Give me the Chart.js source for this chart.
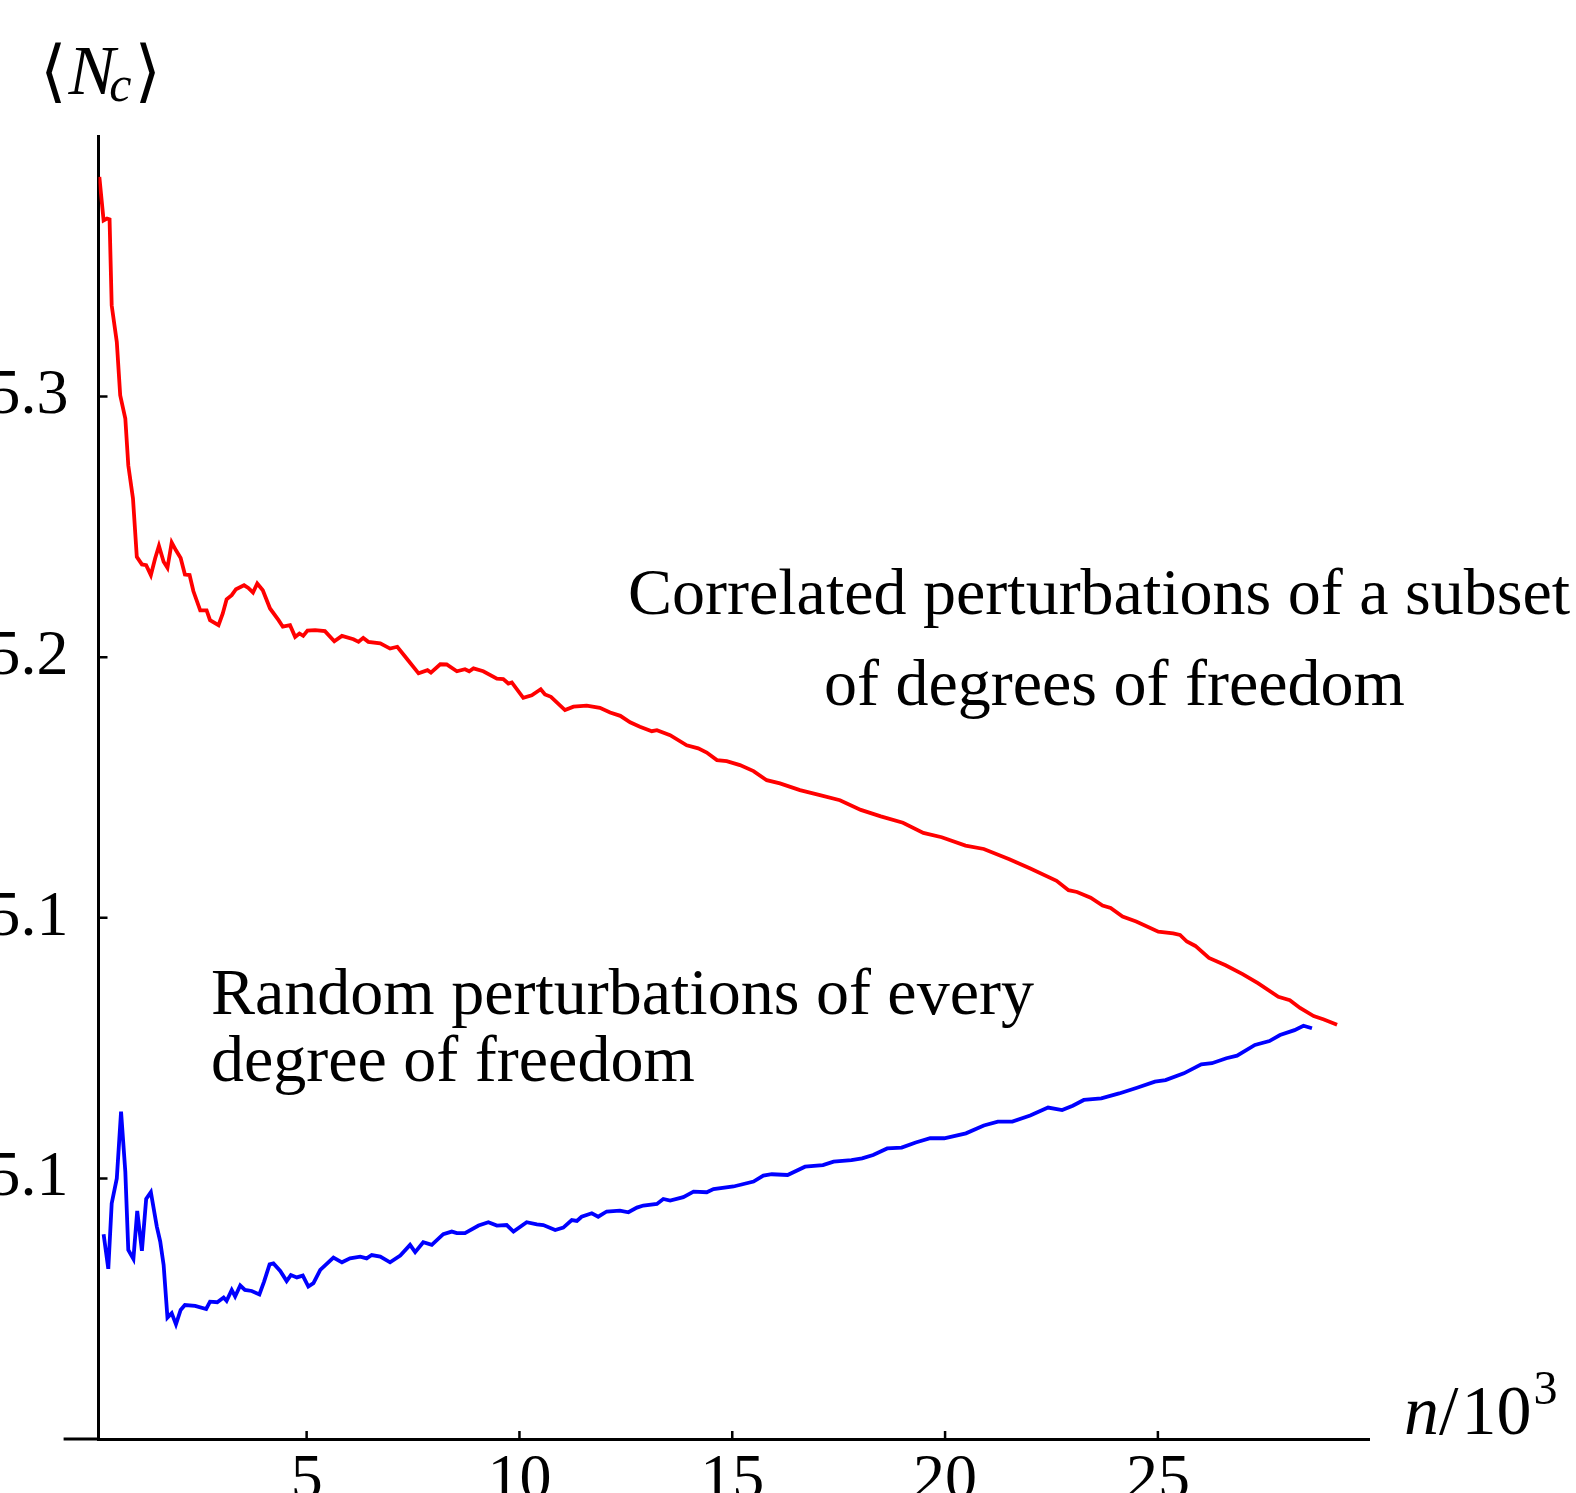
<!DOCTYPE html>
<html>
<head>
<meta charset="utf-8">
<script src="https://cdn.jsdelivr.net/npm/chart.js@4.4.1/dist/chart.umd.min.js"></script>
<style>
  html, body { margin: 0; padding: 0; background: #ffffff; overflow: hidden; }
  canvas { display: block; }
</style>
</head>
<body>
<canvas id="c" width="1576" height="1493"></canvas>
<script>
// ---- data ----
const redX = [0.13,0.23,0.31,0.37,0.42,0.54,0.62,0.74,0.81,0.92,1.01,1.13,1.23,1.34,1.44,1.53,1.64,1.73,1.83,1.93,2.04,2.14,2.25,2.34,2.50,2.65,2.73,2.93,3.03,3.12,3.24,3.34,3.53,3.63,3.74,3.84,3.97,4.14,4.34,4.44,4.61,4.73,4.83,4.92,5.02,5.20,5.43,5.65,5.83,6.10,6.22,6.33,6.45,6.73,6.96,7.13,7.35,7.63,7.84,7.92,8.14,8.29,8.53,8.72,8.82,8.92,9.15,9.47,9.62,9.74,9.82,10.09,10.29,10.50,10.60,10.74,11.07,11.27,11.58,11.89,12.13,12.37,12.60,12.83,13.11,13.23,13.54,13.93,14.20,14.40,14.64,14.87,15.18,15.50,15.81,16.12,16.59,17.06,17.53,18.02,18.49,19.01,19.49,19.92,20.48,20.91,21.51,21.99,22.62,22.90,23.10,23.42,23.70,23.89,24.17,24.49,25.01,25.36,25.52,25.68,25.88,26.20,26.59,26.99,27.35,27.83,28.10,28.34,28.66,28.90,29.21];
const redY = [5.3843,5.3676,5.3683,5.3680,5.3350,5.3210,5.3005,5.2916,5.2736,5.2609,5.2385,5.2356,5.2353,5.2315,5.2379,5.2427,5.2366,5.2343,5.2440,5.2410,5.2381,5.2317,5.2315,5.2253,5.2180,5.2180,5.2142,5.2123,5.2168,5.2222,5.2238,5.2261,5.2276,5.2266,5.2248,5.2283,5.2257,5.2187,5.2142,5.2117,5.2123,5.2078,5.2091,5.2082,5.2102,5.2104,5.2100,5.2061,5.2082,5.2069,5.2059,5.2074,5.2059,5.2053,5.2033,5.2040,5.1995,5.1938,5.1950,5.1941,5.1973,5.1972,5.1946,5.1954,5.1946,5.1957,5.1946,5.1918,5.1916,5.1899,5.1903,5.1844,5.1854,5.1877,5.1857,5.1848,5.1797,5.1810,5.1814,5.1806,5.1788,5.1775,5.1750,5.1733,5.1716,5.1720,5.1701,5.1662,5.1650,5.1634,5.1605,5.1601,5.1586,5.1563,5.1528,5.1516,5.1490,5.1471,5.1451,5.1414,5.1389,5.1365,5.1326,5.1309,5.1277,5.1264,5.1225,5.1190,5.1142,5.1106,5.1099,5.1077,5.1047,5.1038,5.1005,5.0986,5.0947,5.0940,5.0934,5.0909,5.0892,5.0846,5.0818,5.0784,5.0749,5.0697,5.0684,5.0654,5.0623,5.0610,5.0590];

const blueX = [0.23,0.34,0.42,0.54,0.64,0.74,0.81,0.93,1.02,1.13,1.23,1.34,1.48,1.56,1.64,1.73,1.83,1.93,2.04,2.14,2.38,2.64,2.73,2.90,3.05,3.12,3.24,3.32,3.44,3.55,3.71,3.89,4.00,4.13,4.22,4.38,4.53,4.63,4.77,4.91,5.04,5.16,5.32,5.63,5.83,6.02,6.26,6.41,6.53,6.73,6.96,7.20,7.43,7.55,7.74,7.94,8.21,8.41,8.53,8.72,9.04,9.27,9.47,9.70,9.86,10.17,10.41,10.56,10.84,11.03,11.23,11.35,11.46,11.70,11.85,12.05,12.36,12.56,12.76,12.91,13.23,13.38,13.54,13.85,14.09,14.40,14.56,15.03,15.50,15.73,15.93,16.30,16.71,17.13,17.38,17.80,18.05,18.31,18.64,18.98,19.31,19.65,19.98,20.49,20.91,21.24,21.58,22.00,22.42,22.75,23.00,23.26,23.67,24.09,24.51,24.93,25.18,25.61,26.02,26.27,26.61,26.86,27.28,27.62,27.87,28.21,28.42,28.62];
const blueY = [4.9786,4.9653,4.9904,5.0000,5.0256,5.0026,4.9725,4.9691,4.9875,4.9722,4.9921,4.9947,4.9815,4.9758,4.9668,4.9466,4.9483,4.9440,4.9495,4.9514,4.9511,4.9499,4.9527,4.9525,4.9543,4.9530,4.9572,4.9547,4.9589,4.9572,4.9568,4.9555,4.9604,4.9670,4.9674,4.9645,4.9606,4.9629,4.9620,4.9627,4.9585,4.9598,4.9649,4.9696,4.9678,4.9693,4.9700,4.9693,4.9706,4.9700,4.9678,4.9704,4.9745,4.9717,4.9755,4.9745,4.9786,4.9796,4.9790,4.9790,4.9819,4.9832,4.9819,4.9821,4.9796,4.9832,4.9824,4.9821,4.9802,4.9811,4.9840,4.9837,4.9853,4.9866,4.9853,4.9873,4.9876,4.9870,4.9888,4.9896,4.9902,4.9921,4.9915,4.9928,4.9949,4.9947,4.9959,4.9969,4.9988,5.0011,5.0016,5.0013,5.0045,5.0051,5.0064,5.0070,5.0077,5.0090,5.0115,5.0118,5.0138,5.0154,5.0154,5.0173,5.0203,5.0218,5.0218,5.0241,5.0272,5.0262,5.0279,5.0301,5.0307,5.0326,5.0348,5.0371,5.0377,5.0403,5.0438,5.0442,5.0461,5.0471,5.0512,5.0527,5.0550,5.0569,5.0586,5.0576];

const xTickValues = [5, 10, 15, 20, 25];
const xTickLabels = ['5', '10', '15', '20', '25'];
const yTickValues = [5.0, 5.1, 5.2, 5.3];
const yTickLabels = ['5.1', '5.1', '5.2', '5.3'];

const xRange = [0.11, 29.96];   // vertical axis sits at the left end
const xAxisStart = -0.71;       // horizontal axis line reaches a bit left of the vertical axis
const yRange = [4.9, 5.4];

const upperNote = ['Correlated perturbations of a subset', 'of degrees of freedom'];
const lowerNote = ['Random perturbations of every', 'degree of freedom'];

// ---- build ----
const toPts = (xs, ys) => xs.map((x, i) => ({ x: x, y: ys[i] }));
const SERIF = '"Liberation Serif", "DejaVu Serif", serif';

const decor = {
  id: 'decor',
  afterDraw(chart) {
    const { ctx, chartArea, scales } = chart;
    const xs = scales.x, ys = scales.y;
    ctx.save();
    ctx.strokeStyle = '#000';
    ctx.fillStyle = '#000';
    // extension of the horizontal axis to the left of the vertical axis
    ctx.lineWidth = 3;
    ctx.beginPath();
    ctx.moveTo(xs.getPixelForValue(xAxisStart), chartArea.bottom);
    ctx.lineTo(chartArea.left, chartArea.bottom);
    ctx.stroke();
    // inward tick marks
    ctx.lineWidth = 2.5;
    ctx.beginPath();
    xTickValues.forEach(v => {
      const px = xs.getPixelForValue(v);
      ctx.moveTo(px, chartArea.bottom);
      ctx.lineTo(px, chartArea.bottom - 8);
    });
    yTickValues.forEach(v => {
      const py = ys.getPixelForValue(v);
      ctx.moveTo(chartArea.left, py);
      ctx.lineTo(chartArea.left + 9, py);
    });
    ctx.stroke();

    // axis labels
    ctx.textBaseline = 'alphabetic';
    ctx.textAlign = 'left';
    let x = 40;
    ctx.font = '68px ' + SERIF;
    ctx.fillText('\u27E8', x, 94); x += ctx.measureText('\u27E8').width + 2;
    ctx.font = 'italic 70px ' + SERIF;
    ctx.fillText('N', x, 94); x += ctx.measureText('N').width - 6;
    ctx.font = 'italic 50px ' + SERIF;
    ctx.fillText('c', x, 101); x += ctx.measureText('c').width + 3;
    ctx.font = '68px ' + SERIF;
    ctx.fillText('\u27E9', x, 94);

    x = 1404;
    const by = 1434;
    ctx.font = 'italic 70px ' + SERIF;
    ctx.fillText('n', x, by); x += ctx.measureText('n').width;
    ctx.font = '70px ' + SERIF;
    ctx.fillText('/', x, by); x += ctx.measureText('/').width + 3;
    ctx.fillText('10', x, by); x += ctx.measureText('10').width + 2;
    ctx.font = '48px ' + SERIF;
    ctx.fillText('3', x, by - 30);

    // annotations
    ctx.font = '66px ' + SERIF;
    ctx.fillText(upperNote[0], 628, 614);
    ctx.fillText(upperNote[1], 824, 705);
    ctx.fillText(lowerNote[0], 211, 1014);
    ctx.fillText(lowerNote[1], 211, 1081);
    ctx.restore();
  }
};

new Chart(document.getElementById('c'), {
  type: 'scatter',
  data: {
    datasets: [
      { label: 'Correlated', data: toPts(redX, redY), showLine: true, borderColor: '#ff0000', backgroundColor: '#ff0000', borderWidth: 3.8, pointRadius: 0, tension: 0 },
      { label: 'Random', data: toPts(blueX, blueY), showLine: true, borderColor: '#0000ff', backgroundColor: '#0000ff', borderWidth: 3.8, pointRadius: 0, tension: 0 }
    ]
  },
  options: {
    responsive: false,
    animation: false,
    devicePixelRatio: 1,
    layout: { padding: { left: 0, top: 136, right: 207, bottom: 0 } },
    plugins: { legend: { display: false }, tooltip: { enabled: false } },
    scales: {
      x: {
        type: 'linear', position: 'bottom', min: xRange[0], max: xRange[1],
        afterFit: s => { s.height = 54; s.paddingLeft = 0; s.paddingRight = 0; },
        afterBuildTicks: s => { s.ticks = xTickValues.map(v => ({ value: v })); },
        grid: { display: false, drawTicks: false },
        border: { display: true, color: '#000', width: 3 },
        ticks: {
          color: '#000', padding: 4, maxRotation: 0, autoSkip: false,
          font: { family: SERIF, size: 64 },
          callback: (v, i) => xTickLabels[i]
        }
      },
      y: {
        type: 'linear', position: 'left', min: yRange[0], max: yRange[1],
        afterFit: s => { s.width = 98.5; s.paddingTop = 0; s.paddingBottom = 0; },
        afterBuildTicks: s => { s.ticks = yTickValues.map(v => ({ value: v })); },
        grid: { display: false, drawTicks: false },
        border: { display: true, color: '#000', width: 3 },
        ticks: {
          color: '#000', padding: 30, autoSkip: false,
          font: { family: SERIF, size: 64 },
          callback: (v, i) => yTickLabels[i]
        }
      }
    }
  },
  plugins: [decor]
});
</script>
</body>
</html>
